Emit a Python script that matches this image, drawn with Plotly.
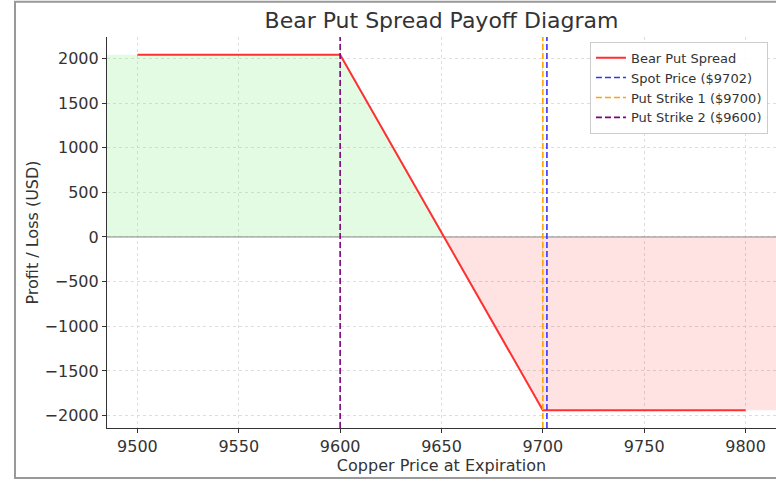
import numpy as np
import plotly.graph_objects as go

# payoff data
prices = [9500, 9600, 9700, 9800]
payoff = [2040, 2040, -1940, -1940]
spot_price = 9702
strike_1 = 9700
strike_2 = 9600

x_ticks = [9500, 9550, 9600, 9650, 9700, 9750, 9800]
y_ticks = [-2000, -1500, -1000, -500, 0, 500, 1000, 1500, 2000]

X_MIN, X_MAX = 9485, 9815
Y_MIN, Y_MAX = -2139, 2239
FONT = "DejaVu Sans, Liberation Sans, sans-serif"
TXT = "#333333"

# fill area spans the whole axis width
fx = [X_MIN] + prices + [X_MAX]
fy = [payoff[0]] + payoff + [payoff[-1]]
breakeven = float(np.interp(0, payoff[::-1], prices[::-1]))
pos_x = [x for x in fx if x < breakeven] + [breakeven]
pos_y = [y for x, y in zip(fx, fy) if x < breakeven] + [0]
neg_x = [breakeven] + [x for x in fx if x > breakeven]
neg_y = [0] + [y for x, y in zip(fx, fy) if x > breakeven]

fig = go.Figure()

fig.add_trace(go.Scatter(x=pos_x, y=pos_y, fill='tozeroy', mode='none',
	fillcolor='rgba(144,238,144,0.25)', showlegend=False, hoverinfo='skip'))
fig.add_trace(go.Scatter(x=neg_x, y=neg_y, fill='tozeroy', mode='none',
	fillcolor='rgba(255,0,0,0.11)', showlegend=False, hoverinfo='skip'))

# zero line
fig.add_trace(go.Scatter(x=[X_MIN, X_MAX], y=[0, 0], mode='lines',
	line=dict(color='#888888', width=1), showlegend=False, hoverinfo='skip'))

fig.add_trace(go.Scatter(x=prices, y=payoff, mode='lines', name='Bear Put Spread',
	line=dict(color='#ff3030', width=2)))

vlines = [
	(spot_price, 'Spot Price ($%d)' % spot_price, '#3333ff'),
	(strike_1, 'Put Strike 1 ($%d)' % strike_1, '#ffa500'),
	(strike_2, 'Put Strike 2 ($%d)' % strike_2, '#800080'),
]
for xv, label, col in vlines:
	fig.add_trace(go.Scatter(x=[xv, xv], y=[Y_MIN, Y_MAX], mode='lines', name=label,
		line=dict(color=col, width=1.6, dash='6px,3px')))

fig.update_xaxes(
	range=[X_MIN, X_MAX],
	tickvals=x_ticks,
	ticktext=[str(v) for v in x_ticks],
	showgrid=True, gridcolor='#dddddd', griddash='dot', gridwidth=1,
	showline=True, linecolor='#333333', linewidth=1.2,
	ticks='outside', ticklen=4, tickcolor='#333333',
	zeroline=False,
	tickfont=dict(size=16, color=TXT),
	title=dict(text='Copper Price at Expiration', font=dict(size=16, color=TXT), standoff=1),
)
fig.update_yaxes(
	range=[Y_MIN, Y_MAX],
	tickvals=y_ticks,
	ticktext=[str(v).replace('-', '\u2212') for v in y_ticks],
	showgrid=True, gridcolor='#dddddd', griddash='dot', gridwidth=1,
	showline=True, linecolor='#333333', linewidth=1.2,
	ticks='outside', ticklen=4, tickcolor='#333333',
	zeroline=False,
	tickfont=dict(size=16, color=TXT),
	title=dict(text='Profit / Loss (USD)', font=dict(size=16, color=TXT), standoff=1),
)

# outer frame of the screenshot
fig.add_shape(type='rect', xref='paper', yref='paper',
	x0=-0.1375, x1=1.2, y0=-0.128, y1=1.09,
	line=dict(color='#999999', width=2), fillcolor='rgba(0,0,0,0)', layer='below')

fig.update_layout(
	title=dict(text='Bear Put Spread Payoff Diagram', x=0.5, xref='paper', xanchor='center',
		y=0.958, yanchor='middle', font=dict(size=22, color=TXT)),
	font=dict(family=FONT, color=TXT),
	legend=dict(x=0.988, y=0.988, xanchor='right', yanchor='top',
		bgcolor='rgba(255,255,255,0.9)', bordercolor='#cccccc', borderwidth=1,
		font=dict(size=13, color=TXT), tracegroupgap=0, itemwidth=30),
	paper_bgcolor='white',
	plot_bgcolor='white',
	margin=dict(l=107, r=0, t=37, b=53),
	width=776,
	height=481,
)

fig.write_html("out.html", config={'displayModeBar': False},
	post_script="document.body.style.margin='0';")
